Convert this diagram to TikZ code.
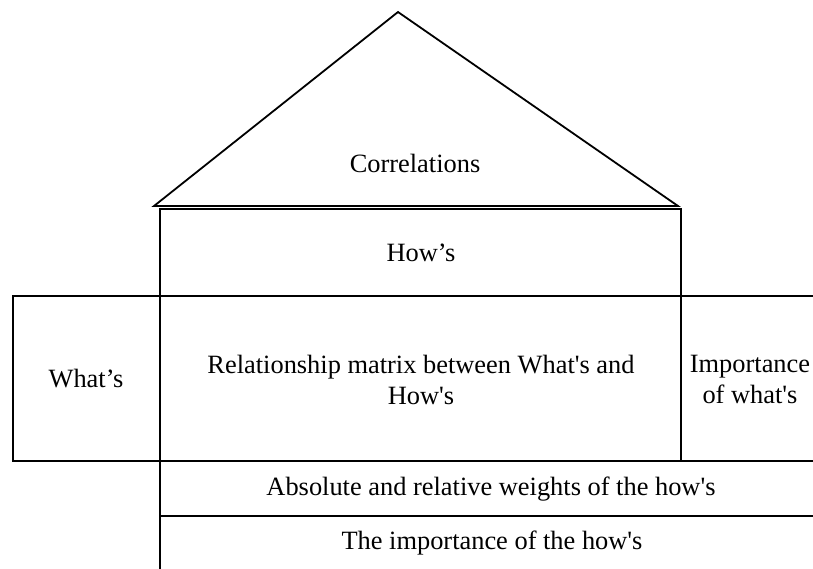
\documentclass[tikz,border=0pt]{standalone}
\usepackage{fontspec}
\setmainfont{Liberation Serif}[Ligatures=TeXOff]
\usepackage{tikz}
\newcommand{\houseFont}[0]{\fontsize{26.4}{31}\selectfont}

\begin{document}
\begin{tikzpicture}[x=1pt, y=-1pt, line width=1.8pt]
  \tikzset{every node/.style={align=center, font=\houseFont, inner sep=0pt}}
  \useasboundingbox (0,0) rectangle (813,568);
  \clip (0,0) rectangle (813,568);
  % roof
  \draw (154,206) -- (398,12) -- (678,206) -- cycle;
  % house body
  \draw (160,209) rectangle (681,296);
  \draw (13,296) rectangle (160,461);
  \draw (160,296) rectangle (681,461);
  \draw (681,296) rectangle (840,461);
  \draw (160,461) rectangle (822,516);
  \draw (160,516) rectangle (822,600);
  % texts
  \node (corr) at (415,163) {Correlations};
  \node (hows) at (421,253) {How’s};
  \node (whats) at (86,379) {What’s};
  \node (matrix) at (421,380) {Relationship matrix between What's and\\How's};
  \node (importance) at (750,379) {Importance\\of what's};
  \node (weights) at (491,489) {Absolute and relative weights of the how's};
  \node (howsimp) at (492,543) {The importance of the how's};
\end{tikzpicture}
\end{document}
